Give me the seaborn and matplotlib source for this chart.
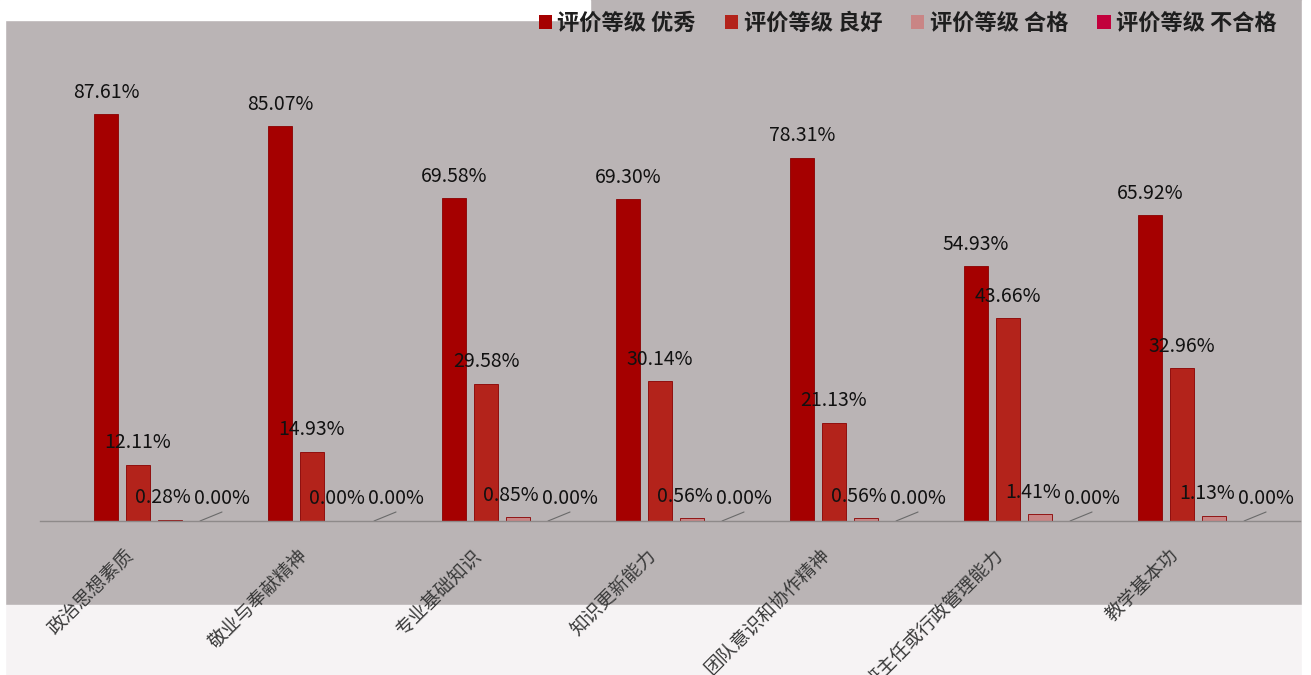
import numpy as np
import pandas as pd
import matplotlib
matplotlib.use('Agg')
import matplotlib.pyplot as plt
import matplotlib.transforms as mtransforms
from matplotlib.patches import Rectangle, Patch
import seaborn as sns

categories = ['政治思想素质', '敬业与奉献精神', '专业基础知识', '知识更新能力',
              '团队意识和协作精神', '班主任或行政管理能力', '教学基本功']
series = ['评价等级 优秀', '评价等级 良好', '评价等级 合格', '评价等级 不合格']
excellent = [87.61, 85.07, 69.58, 69.30, 78.31, 54.93, 65.92]
good = [12.11, 14.93, 29.58, 30.14, 21.13, 43.66, 32.96]
passed = [0.28, 0.00, 0.85, 0.56, 0.56, 1.41, 1.13]
failed = [0.00, 0.00, 0.00, 0.00, 0.00, 0.00, 0.00]
colors = ['#a50000', '#b3231b', '#c98585', '#c2003c']

values = [excellent, good, passed, failed]
df = pd.DataFrame({
    'cat': categories * 4,
    'series': [s for s in series for _ in categories],
    'val': [v for vals in values for v in vals],
})

sns.set_style('white')
plt.rcParams['font.family'] = ['Noto Sans CJK SC', 'DejaVu Sans']

W, H = 1311, 675
fig = plt.figure(figsize=(W / 100, H / 100), dpi=100)
grey = '#bab4b5'
fig.patch.set_facecolor(grey)
# light bands around the grey plot area
fig.patches.append(Rectangle((0, 0), 1, 70 / H, transform=fig.transFigure,
                             color='#f6f3f4', zorder=-1))
fig.patches.append(Rectangle((0, 655 / H), 590 / W, 20 / H, transform=fig.transFigure,
                             color='white', zorder=-1))
fig.patches.append(Rectangle((0, 0), 5 / W, 1, transform=fig.transFigure,
                             color='white', zorder=-1))
fig.patches.append(Rectangle((1302 / W, 0), 9 / W, 1, transform=fig.transFigure,
                             color='white', zorder=-1))

ax = fig.add_axes([40 / W, (H - 521) / H, 1260 / W, (521 - 57) / H])
ax.set_facecolor('none')

sns.barplot(data=df, x='cat', y='val', hue='series', palette=colors,
            width=0.736, gap=0.25, ax=ax, legend=False, saturation=1,
            edgecolor='#8a0000', linewidth=0.6)

ax.set_xlim(-0.655, 6.586)
ax.set_ylim(0, 100)
ax.set_xlabel('')
ax.set_ylabel('')
ax.set_yticks([])
for s in ['top', 'left', 'right']:
    ax.spines[s].set_visible(False)
ax.spines['bottom'].set_color('#8e8a8a')
ax.spines['bottom'].set_linewidth(1)

# value labels
dx = [0, 0, -7, 20]
for i, cont in enumerate(ax.containers):
    for bar in cont:
        if bar.get_height() == 0:
            bar.set_edgecolor('none')
        x = bar.get_x() + bar.get_width() / 2
        h = bar.get_height()
        ax.annotate(f'{h:.2f}%', (x, h), xytext=(dx[i], 22), textcoords='offset pixels',
                    ha='center', va='center', fontsize=14, color='#111111')
        if i == 3:
            p0 = ax.transData.transform((x, 0))
            ax.plot([p0[0] - 2, p0[0] + 20], [p0[1], p0[1] + 9], transform=None,
                    color='#6a6a6a', lw=0.8)

ax.tick_params(axis='x', length=0, pad=17)
ax.set_xticks(range(len(categories)))
ax.set_xticklabels(categories, rotation=45, ha='right', rotation_mode='anchor',
                   fontsize=13.5, color='#3a3a3a')
offset = mtransforms.ScaledTranslation(-0.31, 0, fig.dpi_scale_trans)
for lab in ax.get_xticklabels():
    lab.set_transform(lab.get_transform() + offset)

handles = [Patch(facecolor=c, edgecolor='none') for c in colors]
fig.legend(handles, series, loc='center right', bbox_to_anchor=(1297 / W, 1 - 23 / H),
           ncol=4, frameon=False, handlelength=0.6, handleheight=0.6,
           handletextpad=0.25, columnspacing=1.3,
           prop={'size': 16, 'weight': 'bold'}, labelcolor='#1e1e1e')

fig.savefig('out.png', dpi=100, facecolor=fig.get_facecolor())
